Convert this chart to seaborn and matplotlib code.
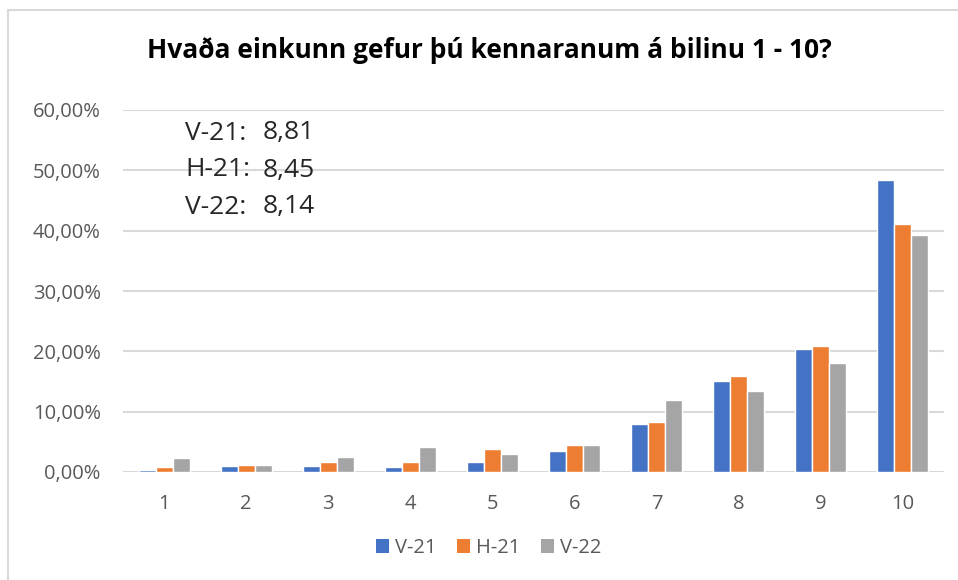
import pandas as pd
import matplotlib.pyplot as plt
import seaborn as sns
from matplotlib.ticker import FuncFormatter
from matplotlib.lines import Line2D
from matplotlib.patches import Patch

# Einkunnir 1-10 og hlutfall svara fyrir hverja önn
einkunnir = ["1", "2", "3", "4", "5", "6", "7", "8", "9", "10"]
v21 = [0.0039, 0.0106, 0.0106, 0.0078, 0.0167, 0.0344, 0.0792, 0.151, 0.204, 0.484]
h21 = [0.0078, 0.0122, 0.0167, 0.0167, 0.0378, 0.0444, 0.0825, 0.1595, 0.209, 0.411]
v22 = [0.0228, 0.0122, 0.0256, 0.0422, 0.0294, 0.0444, 0.1196, 0.1345, 0.181, 0.392]
annir = ["V-21", "H-21", "V-22"]
medaltal = ["8,81", "8,45", "8,14"]
litir = ["#4472C4", "#ED7D31", "#A5A5A5"]

df = pd.DataFrame({
    "Einkunn": einkunnir * 3,
    "Hlutfall": v21 + h21 + v22,
    "Önn": [a for a in annir for _ in einkunnir],
})

sns.set_theme(style="white")
plt.rcParams['font.family'] = ['Open Sans', 'DejaVu Sans']

fig = plt.figure(figsize=(9.58, 5.8), dpi=100)
ax = fig.add_axes([123 / 958, 1 - 472 / 580, (944 - 123) / 958, (472 - 110) / 580])

sns.barplot(data=df, x="Einkunn", y="Hlutfall", hue="Önn", order=einkunnir,
            hue_order=annir, palette=litir, width=0.62, edgecolor="white",
            linewidth=1, saturation=1, ax=ax, legend=False, zorder=3)

ax.set_ylim(0, 0.6)
ax.set_yticks([0, 0.1, 0.2, 0.3, 0.4, 0.5, 0.6])
ax.yaxis.set_major_formatter(FuncFormatter(lambda v, p: f"{v * 100:.2f}%".replace(".", ",")))
ax.grid(axis="y", color="#D9D9D9", linewidth=1.5, zorder=0)
ax.grid(axis="x", visible=False)
for s in ax.spines.values():
    s.set_visible(False)
ax.tick_params(axis="both", length=0, labelcolor="#595959", labelsize=14.5)
ax.tick_params(axis="y", pad=16)
ax.tick_params(axis="x", pad=16)
ax.set_xlabel("")
ax.set_ylabel("")

fig.text(0.511, 1 - 50 / 580, "Hvaða einkunn gefur þú kennaranum á bilinu 1 - 10?",
         ha="center", va="center", fontsize=19, fontweight="bold", color="black")

# meðaleinkunn hverrar annar
for i, (a, m) in enumerate(zip(annir, medaltal)):
    y = 1 - (133 + 37 * i) / 580
    fig.text(185 / 958, y, f"{a}:", ha="left", va="center", fontsize=19, color="#262626")
    fig.text(263 / 958, y, m, ha="left", va="center", fontsize=19, color="#262626")

handles = [Patch(facecolor=c, edgecolor="none") for c in litir]
fig.legend(handles, annir, loc="center", bbox_to_anchor=(0.51, 1 - 548 / 580), ncol=3,
           frameon=False, handlelength=0.65, handleheight=0.65, handletextpad=0.3,
           columnspacing=1.0, fontsize=14.5, labelcolor="#595959")

# rammi utan um myndina (aðeins vinstri og efri brún sýnileg)
fig.add_artist(Line2D([8 / 958, 8 / 958], [0, 1 - 10 / 580], color="#D9D9D9", linewidth=1.5))
fig.add_artist(Line2D([8 / 958, 1], [1 - 10 / 580, 1 - 10 / 580], color="#D9D9D9", linewidth=1.5))

fig.savefig("out.png", dpi=100)
plt.close(fig)
